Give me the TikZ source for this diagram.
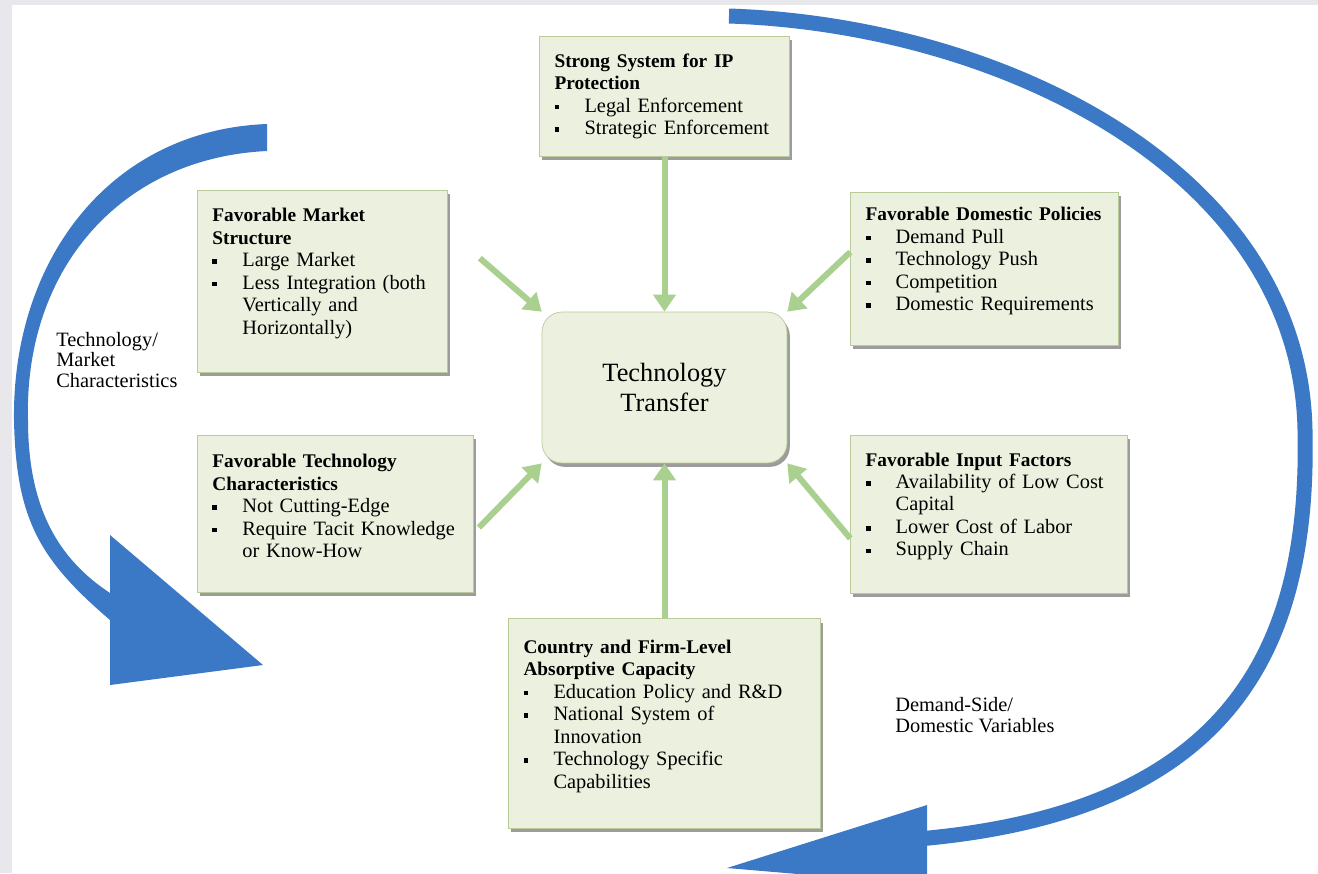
\documentclass[tikz,border=0pt]{standalone}
\usepackage{fontspec}
\setmainfont{Liberation Serif}
\usetikzlibrary{positioning, arrows.meta, shadows}

\definecolor{boxfill}{HTML}{EBF1DE}
\definecolor{boxline}{HTML}{B9CB98}
\definecolor{feedgreen}{HTML}{A9D08E}
\definecolor{cycleblue}{HTML}{3B78C6}
\definecolor{margingray}{HTML}{E8E8EC}

\newcommand{\itm}{\makebox[0.6cm][l]{\rule[0.3ex]{2.8pt}{2.6pt}}}
\newcommand{\cont}{\hspace*{0.6cm}}
\newcommand{\ttl}[1]{{\fontsize{11}{12.8}\selectfont\bfseries #1}}
\newcommand{\boxtail}{\endgraf\vspace*{0.3cm}}

\begin{document}
\begin{tikzpicture}[
        x=0.02cm, y=-0.02cm,
        factor_node/.style={draw=boxline, fill=boxfill, rectangle, thin, inner xsep=0.3cm, align=left, font=\fontsize{11.6}{12.8}\selectfont, drop shadow={shadow xshift=1.6pt, shadow yshift=-2.2pt, fill=black!70, opacity=0.55}},
        lift_text/.style={execute at end node=\boxtail},
        core_node/.style={draw=boxline, fill=boxfill, rectangle, thin, rounded corners=0.4cm, minimum width=4.9cm, minimum height=3.02cm, align=center, font=\fontsize{15}{17}\selectfont, drop shadow={shadow xshift=1.6pt, shadow yshift=-2.2pt, fill=black!70, opacity=0.55}},
        feed_arrow/.style={-{Triangle[width=0.44cm,length=0.34cm]}, line width=0.12cm, draw=feedgreen},
        side_label/.style={align=left, inner sep=0pt, anchor=north west, font=\fontsize{11.6}{11.6}\selectfont}
    ]
        \useasboundingbox (0,0) rectangle (1318,873);
        \fill [white] (0,0) rectangle (1318,873);
        \fill [margingray] (0,0) rectangle (12,873);
        \fill [margingray] (0,0) rectangle (1318,5);

        % Cycle arrows
        \fill [cycleblue] (267,124) .. controls (110,130) and (12,260) .. (14,420) .. controls (16,520) and (40,560) .. (110,620) -- (110,685) -- (263,665) -- (110,535) -- (110,593) .. controls (60,560) and (28,510) .. (28,420) .. controls (24,270) and (120,158) .. (267,151) -- cycle;
        \draw [cycleblue, line width=0.3cm] (729,16) .. controls (1000,25) and (1300,170) .. (1305,430) .. controls (1310,650) and (1230,812) .. (918,839);
        \fill [cycleblue] (927,805) -- (727,868) -- (927,885) -- cycle;

        % Nodes
        \node (transfer) [core_node] at (664.5,387.5) {Technology\\Transfer};
        \node (ipbox) [factor_node, text width=4.4cm, minimum height=2.4cm, above=3.1cm of transfer] {\ttl{Strong System for IP}\\\ttl{Protection}\\\itm Legal Enforcement\\\itm Strategic Enforcement};
        \node (market) [factor_node, lift_text, text width=4.4cm, minimum height=3.64cm, left=1.88cm of transfer, yshift=2.13cm] {\ttl{Favorable Market}\\\ttl{Structure}\\\itm Large Market\\\itm Less Integration (both\\\cont Vertically and\\\cont Horizontally)};
        \node (domestic) [factor_node, lift_text, text width=4.76cm, minimum height=3.06cm, right=1.26cm of transfer, yshift=2.38cm] {\ttl{Favorable Domestic Policies}\\\itm Demand Pull\\\itm Technology Push\\\itm Competition\\\itm Domestic Requirements};
        \node (techchar) [factor_node, lift_text, text width=4.92cm, minimum height=3.14cm, left=1.36cm of transfer, yshift=-2.52cm] {\ttl{Favorable Technology}\\\ttl{Characteristics}\\\itm Not Cutting-Edge\\\itm Require Tacit Knowledge\\\cont or Know-How};
        \node (input) [factor_node, lift_text, text width=4.94cm, minimum height=3.16cm, right=1.26cm of transfer, yshift=-2.53cm] {\ttl{Favorable Input Factors}\\\itm Availability of Low Cost\\\cont Capital\\\itm Lower Cost of Labor\\\itm Supply Chain};
        \node (capacity) [factor_node, lift_text, text width=5.64cm, minimum height=4.2cm, below=3.1cm of transfer] {\ttl{Country and Firm-Level}\\\ttl{Absorptive Capacity}\\\itm Education Policy and R\&D\\\itm National System of\\\cont Innovation\\\itm Technology Specific\\\cont Capabilities};
        \node (techlabel) [side_label] at (56,332) {Technology/\\Market\\Characteristics};
        \node (demandlabel) [side_label, font=\fontsize{11.6}{12}\selectfont] at (895,697) {Demand-Side/\\Domestic Variables};

        % Arrows
        \draw [feed_arrow] (ipbox) -- (transfer);
        \draw [feed_arrow, shorten <=0.85cm] (market.22) -- (transfer.north west);
        \draw [feed_arrow] (domestic.173) -- (transfer.north east);
        \draw [feed_arrow, shorten <=0.15cm] (techchar.-8) -- (transfer.south west);
        \draw [feed_arrow] (input.190) -- (transfer.south east);
        \draw [feed_arrow] (capacity) -- (transfer);
    \end{tikzpicture}
\end{document}
